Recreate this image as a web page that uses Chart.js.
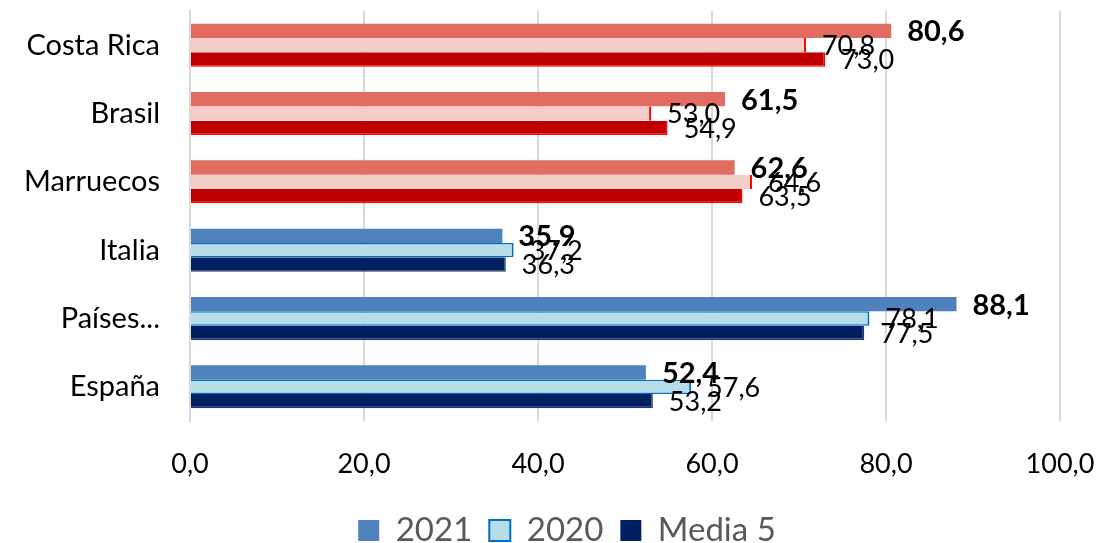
<!DOCTYPE html>
<html>
<head>
<meta charset="utf-8">
<script src="https://cdn.jsdelivr.net/npm/chart.js@4.4.1/dist/chart.umd.min.js"></script>
<style>
  html, body { margin: 0; padding: 0; background: #fff; }
  #wrap { width: 1101px; height: 543px; }
</style>
</head>
<body>
<div id="wrap"><canvas id="chart" width="1101" height="543"></canvas></div>
<script>
const categories = ["Costa Rica", "Brasil", "Marruecos", "Italia", "Países...", "España"];
const values2021 = [80.6, 61.5, 62.6, 35.9, 88.1, 52.4];
const values2020 = [70.8, 53.0, 64.6, 37.2, 78.1, 57.6];
const valuesMedia = [73.0, 54.9, 63.5, 36.3, 77.5, 53.2];
const xTicks = [0, 20, 40, 60, 80, 100];

const FONT = 'Lato, "Open Sans", sans-serif';

// first three countries red, rest blue
const isRed = i => i < 3;
const col2021 = categories.map((_, i) => isRed(i) ? '#E06D5F' : '#4F81BD');
const col2020 = categories.map((_, i) => isRed(i) ? '#F4CDC9' : '#B7DDE8');
const border2020 = categories.map((_, i) => isRed(i) ? '#FF0000' : '#0070C0');
const colMedia = categories.map((_, i) => isRed(i) ? '#C00000' : '#002060');
const borderMedia = categories.map((_, i) => isRed(i) ? '#FF0000' : '#1F3A70');

function fmt(v) {
    return v.toFixed(1).replace('.', ',');
}

// draw value labels at bar ends
const barLabels = {
    id: 'barLabels',
    afterDatasetsDraw(chart) {
        const ctx = chart.ctx;
        chart.data.datasets.forEach((ds, di) => {
            const meta = chart.getDatasetMeta(di);
            meta.data.forEach((bar, i) => {
                ctx.save();
                ctx.font = (di === 0 ? 'bold 29px ' : '27px ') + FONT;
                ctx.fillStyle = '#000';
                ctx.textBaseline = 'middle';
                ctx.textAlign = 'left';
                ctx.fillText(fmt(ds.data[i]), bar.x + 16, bar.y + 1);
                ctx.restore();
            });
        });
    }
};

// left padding only shifts the legend; let the country names use the full left margin
const unclipY = {
    id: 'unclipY',
    afterLayout(chart) {
        chart.scales.y.left = 0;
    }
};

new Chart(document.getElementById('chart'), {
    type: 'bar',
    data: {
        labels: categories,
        datasets: [
            { label: '2021', data: values2021, backgroundColor: col2021, borderWidth: 0 },
            {
                label: '2020', data: values2020, backgroundColor: col2020, borderColor: border2020,
                borderWidth: c => isRed(c.dataIndex)
                    ? { top: 0, bottom: 0, left: 0, right: 2 }
                    : { top: 1.5, bottom: 1.5, left: 0, right: 2 }
            },
            {
                label: 'Media 5', data: valuesMedia, backgroundColor: colMedia, borderColor: borderMedia,
                borderWidth: { top: 0, bottom: 1.5, left: 0, right: 1.5 }
            }
        ]
    },
    options: {
        indexAxis: 'y',
        responsive: false,
        animation: false,
        devicePixelRatio: 1,
        categoryPercentage: 0.63,
        barPercentage: 1,
        layout: { padding: { top: 11, right: 41, left: 74, bottom: 0 } },
        scales: {
            x: {
                min: 0,
                max: 100,
                afterBuildTicks: axis => { axis.ticks = xTicks.map(v => ({ value: v })); },
                afterFit: axis => { axis.height = 76; },
                ticks: {
                    callback: v => fmt(v),
                    color: '#000',
                    font: { family: FONT, size: 27 },
                    padding: 0
                },
                grid: { color: '#D9D9D9', lineWidth: 2, drawTicks: true, tickLength: 27, tickColor: 'rgba(0,0,0,0)' },
                border: { display: false }
            },
            y: {
                afterFit: axis => { axis.width = 116; },
                ticks: {
                    color: '#000',
                    font: { family: FONT, size: 29, lineHeight: 0.7 },
                    padding: 0
                },
                grid: { drawOnChartArea: false, drawTicks: true, tickLength: 30, tickColor: 'rgba(0,0,0,0)', color: 'rgba(0,0,0,0)' },
                border: { color: '#D9D9D9', width: 2 }
            }
        },
        plugins: {
            tooltip: { enabled: false },
            legend: {
                position: 'bottom',
                maxHeight: 46,
                labels: {
                    color: '#595959',
                    font: { family: FONT, size: 33 },
                    boxWidth: 21,
                    boxHeight: 21,
                    padding: 17,
                    generateLabels: () => [
                        { text: '2021', fillStyle: '#4F81BD', strokeStyle: '#4F81BD', lineWidth: 0, fontColor: '#595959' },
                        { text: '2020', fillStyle: '#B7DDE8', strokeStyle: '#0070C0', lineWidth: 2, fontColor: '#595959' },
                        { text: 'Media 5', fillStyle: '#002060', strokeStyle: '#002060', lineWidth: 0, fontColor: '#595959' }
                    ]
                }
            }
        }
    },
    plugins: [barLabels, unclipY]
});
</script>
</body>
</html>
